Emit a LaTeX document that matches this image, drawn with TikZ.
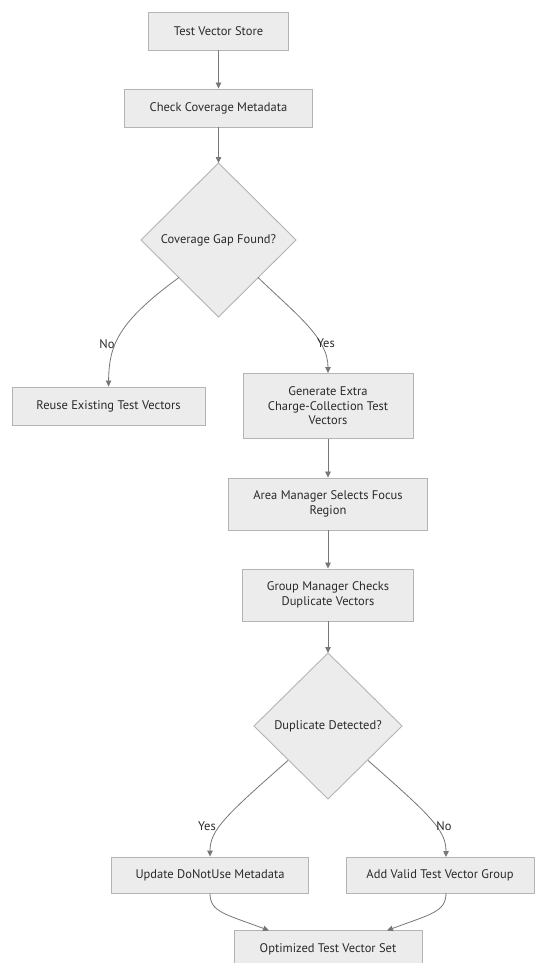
\documentclass[tikz,border=0pt]{standalone}
\usepackage{fontspec}
\setmainfont{PT Sans}
\usetikzlibrary{arrows.meta}
\definecolor{boxfill}{HTML}{ECECEC}
\definecolor{boxline}{HTML}{B4B4B4}
\definecolor{edgecol}{HTML}{777777}
\definecolor{txt}{HTML}{2A2A2A}
\tikzset{
  every node/.style={font=\fontsize{12.5}{14.5}\selectfont, text=txt},
  procbox/.style={draw=boxline, fill=boxfill, line width=0.9pt, minimum height=38pt, align=center, inner sep=0pt},
  decision/.style={draw=boxline, fill=boxfill, line width=0.9pt},
  flow/.style={draw=edgecol, line width=0.8pt, -{Triangle[length=6pt,width=5.5pt]}},
  elabel/.style={fill=none, inner sep=1pt}
}
\begin{document}
\begin{tikzpicture}[x=1pt, y=-1pt]
\useasboundingbox (0,0) rectangle (536,963);
\clip (0,0) rectangle (536,963);
\fill[white] (0,0) rectangle (536,963);

% nodes
\node[procbox, minimum width=140pt] (store) at (218.5,31) {Test Vector Store};
\node[procbox, minimum width=188pt] (check) at (218.5,108) {Check Coverage Metadata};
\draw[decision] (218.5,163) -- (296,240) -- (218.5,317) -- (141,240) -- cycle;
\node (gap) at (218.5,240) {Coverage Gap Found?};
\coordinate (gapT) at (218.5,163);
\coordinate (gapL) at (179,277.5);
\coordinate (gapR) at (258,277.5);

\node[procbox, minimum width=193pt] (reuse) at (108.5,406) {Reuse Existing Test Vectors};
\node[procbox, minimum width=170pt, minimum height=65pt] (gen) at (328,406) {Generate Extra\\Charge-Collection Test\\Vectors};
\node[procbox, minimum width=199pt, minimum height=52pt] (area) at (328,504) {Area Manager Selects Focus\\Region};
\node[procbox, minimum width=171pt, minimum height=52pt] (group) at (328,595) {Group Manager Checks\\Duplicate Vectors};

\draw[decision] (328,653) -- (402,726) -- (328,799) -- (254,726) -- cycle;
\node (dup) at (328,726) {Duplicate Detected?};
\coordinate (dupT) at (328,653);
\coordinate (dupL) at (288,760.5);
\coordinate (dupR) at (368,760.5);

\node[procbox, minimum width=197pt, minimum height=36pt] (upd) at (210,875) {Update DoNotUse Metadata};
\node[procbox, minimum width=188pt, minimum height=36pt] (add) at (440,875) {Add Valid Test Vector Group};
\node[procbox, minimum width=188pt] (opt) at (328,949) {Optimized Test Vector Set};
\coordinate (addIn) at (446,857);
\coordinate (addOut) at (446,893);
\coordinate (optL) at (269,930.5);
\coordinate (optR) at (387,930.5);

% edges
\draw[flow] (store.south) -- (check.north);
\draw[flow] (check.south) -- (gapT);
\draw[flow] (gapL) .. controls (118,322) and (109,345) .. (reuse.north);
\draw[flow] (gapR) .. controls (297,315) and (328,338) .. (gen.north);
\draw[flow] (gen.south) -- (area.north);
\draw[flow] (area.south) -- (group.north);
\draw[flow] (group.south) -- (dupT);
\draw[flow] (dupL) .. controls (226,815) and (210,830) .. (upd.north);
\draw[flow] (dupR) .. controls (430,815) and (446,830) .. (addIn);
\draw[flow] (upd.south) .. controls (210,912) and (225,914) .. (optL);
\draw[flow] (addOut) .. controls (446,912) and (431,914) .. (optR);

% labels
\node[elabel] (lno1) at (107,344) {No};
\node[elabel] (lyes1) at (326,343.5) {Yes};
\node[elabel] (lyes2) at (207,826) {Yes};
\node[elabel] (lno2) at (444,826) {No};
\end{tikzpicture}
\end{document}
